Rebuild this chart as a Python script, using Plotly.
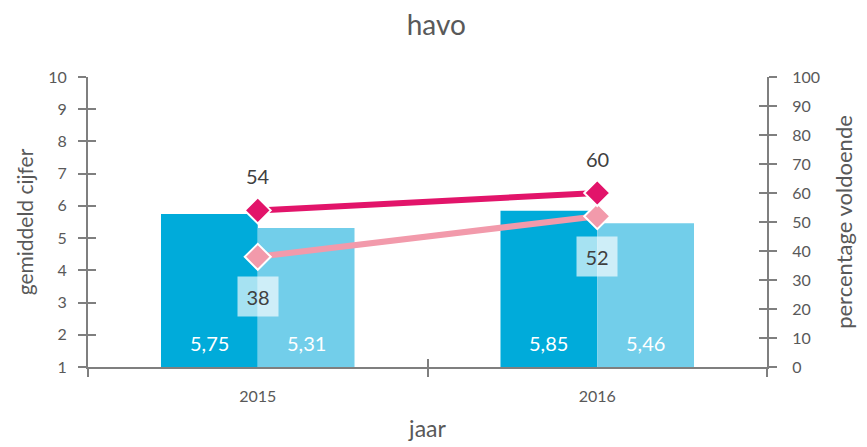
import plotly.graph_objects as go

years = ["2015", "2016"]
cijfer_a = [5.75, 5.85]      # donkerblauw
cijfer_b = [5.31, 5.46]      # lichtblauw
voldoende_a = [54, 60]       # donkerroze lijn
voldoende_b = [38, 52]       # lichtroze lijn
left_ticks = list(range(1, 11))
right_ticks = list(range(0, 101, 10))

BARGAP = 0.43
FONT = "Lato, Open Sans, sans-serif"
GREY = "#595959"
AXIS = "#7f7f7f"
C_BAR_A = "#00ABDA"
C_BAR_B = "#72CEEA"
C_LINE_A = "#E2146A"
C_LINE_B = "#F29AAB"

def fmt(v):
    return f"{v:.2f}".replace(".", ",")

fig = go.Figure()
BASE = left_ticks[0]
fig.add_bar(x=years, y=[v - BASE for v in cijfer_a], base=BASE, marker_color=C_BAR_A,
            marker_line_width=0, name="a", hoverinfo="skip")
fig.add_bar(x=years, y=[v - BASE for v in cijfer_b], base=BASE, marker_color=C_BAR_B,
            marker_line_width=0, name="b", hoverinfo="skip")
fig.add_scatter(x=years, y=voldoende_b, yaxis="y2", mode="lines+markers",
                line=dict(color=C_LINE_B, width=6),
                marker=dict(symbol="diamond", size=20, color=C_LINE_B, line=dict(color="white", width=2)))
fig.add_scatter(x=years, y=voldoende_a, yaxis="y2", mode="lines+markers",
                line=dict(color=C_LINE_A, width=6),
                marker=dict(symbol="diamond", size=20, color=C_LINE_A, line=dict(color="white", width=2)))
# helper traces for cross ticks
fig.add_scatter(x=years, y=[None, None], yaxis="y3", mode="markers", showlegend=False, hoverinfo="skip")
fig.add_scatter(x=years, y=[None, None], yaxis="y4", mode="markers", showlegend=False, hoverinfo="skip")
fig.add_scatter(x=years, y=[None, None], xaxis="x2", mode="markers", showlegend=False, hoverinfo="skip")

off = (1 - BARGAP) / 4
ann = []
for i, y in enumerate(years):
    ann.append(dict(x=i - off, y=BASE, xref="x", yref="y", text=fmt(cijfer_a[i]), showarrow=False,
                    yanchor="bottom", yshift=10, font=dict(color="white", size=20, family=FONT)))
    ann.append(dict(x=i + off, y=BASE, xref="x", yref="y", text=fmt(cijfer_b[i]), showarrow=False,
                    yanchor="bottom", yshift=10, font=dict(color="white", size=20, family=FONT)))
    ann.append(dict(x=i, y=voldoende_a[i], xref="x", yref="y2", text=str(voldoende_a[i]), showarrow=False,
                    yshift=34, font=dict(color="#404040", size=20, family=FONT)))
    ann.append(dict(x=i, y=voldoende_b[i], xref="x", yref="y2", text=str(voldoende_b[i]), showarrow=False,
                    yshift=-40, width=38, height=37, bgcolor="rgba(255,255,255,0.65)",
                    font=dict(color="#404040", size=20, family=FONT)))

tickfont = dict(family=FONT, size=16, color=GREY)
fig.update_layout(
    width=867, height=447,
    margin=dict(l=80, r=108, t=69, b=88),
    paper_bgcolor="white", plot_bgcolor="white",
    showlegend=False, barmode="group", bargap=BARGAP, bargroupgap=0,
    title=dict(text="havo", x=0.494, xref="container", xanchor="center", y=0.962, yanchor="middle",
               font=dict(family=FONT, size=28, color=GREY)),
    font=dict(family=FONT, color=GREY),
    xaxis=dict(type="category", range=[-0.5, len(years) - 0.5], showline=True, linecolor=AXIS, linewidth=2,
               ticks="outside", tickson="boundaries", ticklen=8, tickcolor=AXIS, tickwidth=2, showgrid=False,
               tickangle=0, tickfont=dict(family=FONT, size=16, color=GREY), ticklabelstandoff=14,
               title=dict(text="jaar", font=dict(family=FONT, size=23, color=GREY), standoff=17)),
    xaxis2=dict(type="category", range=[-0.5, len(years) - 0.5], overlaying="x", side="bottom", anchor="y",
                showline=False, ticks="inside", tickson="boundaries", ticklen=8, tickcolor=AXIS, tickwidth=2,
                showticklabels=False, showgrid=False),
    yaxis=dict(range=[1, 10], tickvals=left_ticks, showline=True, linecolor=AXIS, linewidth=2,
               ticks="outside", ticklen=8, tickcolor=AXIS, tickwidth=2, showgrid=False, zeroline=False,
               tickfont=tickfont, ticklabelstandoff=8,
               title=dict(text="gemiddeld cijfer", font=dict(family=FONT, size=21, color=GREY), standoff=9)),
    yaxis2=dict(range=[0, 100], tickvals=right_ticks, overlaying="y", side="right", anchor="x",
                showline=True, linecolor=AXIS, linewidth=2, ticks="outside", ticklen=8, tickcolor=AXIS,
                tickwidth=2, showgrid=False, zeroline=False, tickfont=tickfont, ticklabelstandoff=12,
                title=dict(text="percentage voldoende", font=dict(family=FONT, size=22, color=GREY), standoff=18)),
    yaxis3=dict(range=[1, 10], tickvals=left_ticks, overlaying="y", side="left", anchor="x",
                showline=False, ticks="inside", ticklen=8, tickcolor=AXIS, tickwidth=2,
                showticklabels=False, showgrid=False, zeroline=False),
    yaxis4=dict(range=[0, 100], tickvals=right_ticks, overlaying="y", side="right", anchor="x",
                showline=False, ticks="inside", ticklen=8, tickcolor=AXIS, tickwidth=2,
                showticklabels=False, showgrid=False, zeroline=False),
    annotations=ann,
)
fig.write_html("out.html")
